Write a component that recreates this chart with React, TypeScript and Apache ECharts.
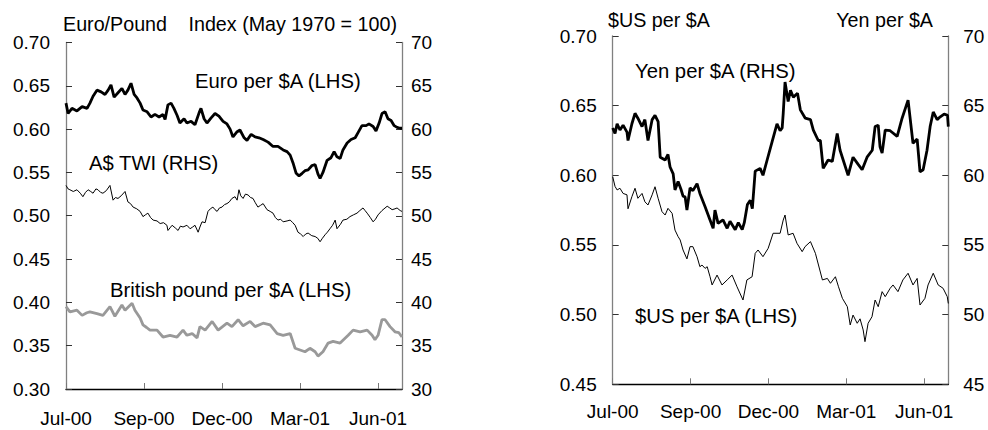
import React, { useEffect, useRef } from "react";
import * as echarts from "echarts";

// x values are months from the left edge of each panel (0 = Jul-00)
const monthLabels = ["Jul-00", "Sep-00", "Dec-00", "Mar-01", "Jun-01"];

// Left panel
const euroPerAUD: [number, number][] = [
  [0, 0.630], [0.08, 0.618], [0.23, 0.624], [0.42, 0.621], [0.62, 0.626], [0.81, 0.624], [0.92, 0.630],
  [1.04, 0.638], [1.19, 0.645], [1.35, 0.643], [1.5, 0.640], [1.62, 0.645], [1.73, 0.651], [1.85, 0.637],
  [2.0, 0.642], [2.15, 0.647], [2.27, 0.640], [2.38, 0.645], [2.5, 0.653], [2.62, 0.640], [2.73, 0.636],
  [2.85, 0.630], [2.96, 0.622], [3.12, 0.620], [3.27, 0.614], [3.42, 0.617], [3.58, 0.614], [3.73, 0.617],
  [3.81, 0.611], [3.92, 0.628], [4.04, 0.630], [4.15, 0.624], [4.27, 0.616], [4.38, 0.607], [4.54, 0.612],
  [4.65, 0.607], [4.81, 0.609], [4.96, 0.605], [5.12, 0.619], [5.19, 0.624], [5.31, 0.612], [5.42, 0.607],
  [5.58, 0.613], [5.73, 0.618], [5.88, 0.615], [6.04, 0.609], [6.19, 0.606], [6.31, 0.600], [6.42, 0.591],
  [6.58, 0.597], [6.69, 0.599], [6.85, 0.590], [6.96, 0.587], [7.12, 0.594], [7.27, 0.591], [7.42, 0.590],
  [7.58, 0.588], [7.77, 0.585], [7.96, 0.580], [8.15, 0.580], [8.35, 0.576], [8.5, 0.574], [8.62, 0.570],
  [8.73, 0.561], [8.85, 0.549], [8.96, 0.546], [9.08, 0.549], [9.19, 0.552], [9.31, 0.553], [9.46, 0.558],
  [9.58, 0.559], [9.69, 0.548], [9.77, 0.543], [9.88, 0.550], [10.04, 0.564], [10.19, 0.567], [10.31, 0.574],
  [10.42, 0.568], [10.54, 0.566], [10.65, 0.576], [10.81, 0.584], [10.96, 0.588], [11.12, 0.590], [11.23, 0.596],
  [11.38, 0.604], [11.54, 0.604], [11.65, 0.606], [11.81, 0.603], [11.92, 0.598], [12.04, 0.607], [12.15, 0.618],
  [12.27, 0.620], [12.38, 0.612], [12.5, 0.610], [12.62, 0.604], [12.73, 0.602], [12.85, 0.601], [12.92, 0.601],
];

const audTWI: [number, number][] = [
  [0, 53.5], [0.08, 53.1], [0.15, 53.0], [0.28, 52.8], [0.42, 53.0], [0.55, 52.6], [0.65, 52.2], [0.75, 52.7],
  [0.85, 53.0], [0.95, 52.8], [1.04, 52.6], [1.15, 53.1], [1.23, 53.0], [1.33, 52.7], [1.42, 52.6], [1.55, 52.9],
  [1.69, 53.5], [1.81, 51.8], [1.9, 52.1], [2.0, 52.0], [2.12, 52.3], [2.27, 52.8], [2.38, 51.6], [2.48, 51.4],
  [2.58, 51.0], [2.72, 50.8], [2.85, 50.5], [2.96, 49.9], [3.05, 50.1], [3.15, 50.3], [3.25, 49.8], [3.35, 49.5],
  [3.5, 49.4], [3.62, 49.1], [3.75, 49.2], [3.88, 48.9], [3.92, 48.3], [4.0, 48.6], [4.08, 48.9], [4.2, 48.6],
  [4.31, 48.3], [4.4, 48.8], [4.5, 48.7], [4.65, 48.9], [4.77, 48.5], [4.87, 48.7], [4.96, 48.9], [5.08, 48.1],
  [5.15, 48.7], [5.23, 49.3], [5.35, 49.2], [5.46, 50.5], [5.55, 50.8], [5.65, 51.0], [5.73, 50.7], [5.81, 50.5],
  [5.9, 50.9], [6.0, 51.0], [6.1, 51.3], [6.19, 51.4], [6.28, 51.6], [6.38, 52.0], [6.5, 52.2], [6.58, 51.8],
  [6.65, 53.0], [6.72, 52.3], [6.81, 52.0], [6.9, 52.5], [7.0, 52.4], [7.1, 52.1], [7.19, 52.0], [7.28, 51.5],
  [7.38, 51.0], [7.48, 51.2], [7.58, 51.4], [7.73, 50.7], [7.85, 50.5], [7.96, 50.3], [8.05, 49.8], [8.15, 49.5],
  [8.25, 49.6], [8.35, 49.3], [8.5, 49.4], [8.62, 49.5], [8.72, 49.2], [8.81, 48.9], [8.92, 48.1], [9.02, 47.9],
  [9.12, 47.6], [9.22, 47.9], [9.31, 48.0], [9.45, 47.7], [9.58, 47.6], [9.68, 47.4], [9.77, 47.0], [9.86, 47.4],
  [9.96, 47.8], [10.05, 48.1], [10.15, 48.5], [10.25, 48.9], [10.35, 49.5], [10.42, 48.5], [10.55, 49.0],
  [10.65, 49.5], [10.8, 49.6], [10.92, 49.9], [11.05, 50.1], [11.19, 50.3], [11.3, 50.6], [11.42, 50.9],
  [11.5, 50.6], [11.58, 50.3], [11.7, 49.8], [11.81, 49.3], [11.9, 49.6], [12.0, 50.1], [12.15, 50.6],
  [12.35, 51.1], [12.45, 50.9], [12.54, 50.7], [12.65, 50.8], [12.73, 50.9], [12.85, 50.6], [12.92, 50.5],
];

const gbpPerAUD: [number, number][] = [
  [0, 0.395], [0.15, 0.389], [0.27, 0.390], [0.42, 0.391], [0.62, 0.385], [0.8, 0.388], [0.92, 0.389],
  [1.19, 0.387], [1.42, 0.385], [1.69, 0.395], [1.88, 0.384], [2.15, 0.397], [2.27, 0.391], [2.54, 0.399],
  [2.65, 0.391], [2.85, 0.382], [2.96, 0.374], [3.1, 0.371], [3.23, 0.368], [3.5, 0.368], [3.73, 0.360],
  [4.0, 0.362], [4.27, 0.360], [4.5, 0.368], [4.65, 0.362], [4.85, 0.364], [5.04, 0.359], [5.15, 0.372],
  [5.35, 0.368], [5.62, 0.378], [5.85, 0.368], [6.19, 0.376], [6.38, 0.372], [6.62, 0.380], [6.81, 0.373],
  [7.08, 0.378], [7.27, 0.372], [7.58, 0.376], [7.85, 0.374], [8.12, 0.364], [8.35, 0.362], [8.62, 0.364],
  [8.81, 0.347], [9.0, 0.345], [9.19, 0.343], [9.38, 0.347], [9.58, 0.343], [9.69, 0.338], [9.88, 0.343],
  [10.08, 0.353], [10.27, 0.355], [10.54, 0.353], [10.85, 0.362], [11.04, 0.368], [11.31, 0.366],
  [11.58, 0.368], [11.77, 0.362], [11.88, 0.357], [12.0, 0.362], [12.15, 0.380], [12.27, 0.380],
  [12.46, 0.372], [12.65, 0.366], [12.8, 0.365], [12.92, 0.360],
];

// Right panel
const yenPerAUD: [number, number][] = [
  [0, 63.4], [0.09, 63.0], [0.17, 63.7], [0.28, 63.25], [0.4, 63.6], [0.55, 63.1], [0.59, 62.5], [0.74, 63.7],
  [0.86, 64.45], [0.97, 64.1], [1.13, 63.5], [1.24, 64.0], [1.36, 62.5], [1.52, 64.0], [1.63, 64.3], [1.75, 63.85],
  [1.83, 61.3], [2.02, 61.1], [2.13, 61.5], [2.21, 60.6], [2.33, 60.1], [2.4, 58.95], [2.52, 59.55], [2.63, 59.0],
  [2.71, 58.5], [2.79, 58.45], [2.86, 57.5], [2.98, 59.1], [3.09, 58.9], [3.25, 59.4], [3.36, 58.7], [3.56, 57.75],
  [3.75, 56.8], [3.87, 56.2], [3.94, 57.5], [4.06, 56.55], [4.25, 56.8], [4.41, 56.2], [4.52, 56.7], [4.72, 56.1],
  [4.84, 56.6], [4.99, 56.1], [5.07, 56.6], [5.19, 57.9], [5.3, 58.2], [5.38, 57.6], [5.49, 60.3], [5.68, 60.5],
  [5.79, 60.0], [5.95, 61.1], [6.14, 62.4], [6.33, 63.7], [6.45, 63.2], [6.53, 63.4], [6.57, 64.45], [6.64, 66.7],
  [6.76, 65.3], [6.85, 66.1], [6.96, 65.6], [7.12, 65.9], [7.23, 64.7], [7.42, 64.1], [7.62, 64.0], [7.73, 63.25],
  [7.92, 62.5], [8.0, 62.5], [8.11, 60.5], [8.3, 61.1], [8.46, 61.0], [8.65, 63.0], [8.76, 61.8], [8.88, 61.1],
  [9.07, 60.0], [9.26, 61.3], [9.45, 60.8], [9.61, 60.4], [9.8, 61.3], [10.0, 61.8], [10.11, 63.5], [10.23, 63.6],
  [10.3, 62.05], [10.38, 61.6], [10.5, 63.25], [10.69, 63.2], [10.96, 62.8], [11.15, 64.1], [11.38, 65.4],
  [11.57, 62.3], [11.73, 62.6], [11.84, 60.25], [11.96, 60.4], [12.11, 61.8], [12.23, 63.5], [12.35, 64.55],
  [12.5, 64.0], [12.62, 64.2], [12.77, 64.4], [12.9, 64.3], [12.93, 63.5],
];

const usdPerAUD: [number, number][] = [
  [0, 0.599], [0.09, 0.592], [0.17, 0.5895], [0.28, 0.5907], [0.4, 0.587], [0.55, 0.586], [0.59, 0.576],
  [0.74, 0.5847], [0.86, 0.5907], [0.97, 0.5835], [1.13, 0.587], [1.24, 0.581], [1.36, 0.5787], [1.52, 0.586],
  [1.63, 0.5918], [1.75, 0.5835], [1.9, 0.5739], [2.02, 0.5715], [2.13, 0.5763], [2.29, 0.5727], [2.4, 0.5607],
  [2.52, 0.556], [2.6, 0.5536], [2.71, 0.5464], [2.86, 0.540], [2.98, 0.5488], [3.09, 0.5488], [3.25, 0.5416],
  [3.36, 0.5344], [3.44, 0.5356], [3.56, 0.5332], [3.64, 0.5344], [3.75, 0.5272], [3.83, 0.5213], [4.02, 0.5284],
  [4.21, 0.5213], [4.41, 0.5249], [4.6, 0.5284], [4.79, 0.520], [5.02, 0.5105], [5.17, 0.5249], [5.37, 0.5272],
  [5.49, 0.544], [5.6, 0.5464], [5.79, 0.5416], [5.99, 0.5476], [6.18, 0.5584], [6.45, 0.5584], [6.57, 0.5679],
  [6.64, 0.5715], [6.76, 0.5572], [6.95, 0.5584], [7.1, 0.5512], [7.3, 0.5452], [7.41, 0.5488], [7.62, 0.5524],
  [7.81, 0.544], [8.08, 0.5249], [8.27, 0.526], [8.39, 0.5225], [8.58, 0.5272], [8.7, 0.520], [8.85, 0.5117],
  [9.04, 0.5057], [9.15, 0.4926], [9.26, 0.4997], [9.42, 0.4938], [9.53, 0.497], [9.65, 0.489], [9.72, 0.4806],
  [9.84, 0.4938], [9.99, 0.4985], [10.11, 0.5105], [10.23, 0.5057], [10.38, 0.5165], [10.5, 0.5129],
  [10.69, 0.5189], [10.8, 0.5213], [10.99, 0.5165], [11.18, 0.5249], [11.38, 0.5297], [11.57, 0.5213],
  [11.73, 0.526], [11.84, 0.5069], [12.03, 0.5117], [12.15, 0.5213], [12.35, 0.5297], [12.54, 0.5213],
  [12.73, 0.5189], [12.89, 0.5129], [12.93, 0.508],
];

const FONT = "'Liberation Sans', Arial, Helvetica, sans-serif";

function xAxisFor(gridIndex: number, max: number, margin: number) {
  return {
    type: "value" as const,
    gridIndex,
    min: 0,
    max,
    interval: 3,
    axisLine: { show: true, lineStyle: { color: "#000", width: 1.3 } },
    axisTick: { show: true, inside: true, length: 6, lineStyle: { color: "#777" } },
    axisLabel: {
      color: "#000",
      fontSize: 19,
      fontFamily: FONT,
      margin,
      showMaxLabel: false,
      formatter: (v: number) => {
        const i = Math.round(v / 3);
        return Math.abs(v - i * 3) < 1e-6 && monthLabels[i] ? monthLabels[i] : "";
      },
    },
    splitLine: { show: false },
  };
}

function yAxisFor(
  gridIndex: number,
  position: "left" | "right",
  min: number,
  max: number,
  interval: number,
  decimals: number,
  margin: number
) {
  return {
    type: "value" as const,
    gridIndex,
    position,
    min,
    max,
    interval,
    axisLine: { show: true, lineStyle: { color: "#808080", width: 1.3 } },
    axisTick: { show: true, inside: true, length: 6, lineStyle: { color: "#333" } },
    axisLabel: {
      color: "#000",
      fontSize: 19,
      fontFamily: FONT,
      margin,
      formatter: (v: number) => v.toFixed(decimals),
    },
    splitLine: { show: false },
  };
}

function txt(text: string, x: number, y: number, align: "left" | "right" = "left", size = 20.3) {
  return {
    type: "text" as const,
    x,
    y,
    style: {
      text,
      fill: "#000",
      font: `${size}px ${FONT}`,
      textAlign: align,
      textVerticalAlign: "middle",
    },
  };
}

export default function App() {
  const ref = useRef<HTMLDivElement>(null);
  useEffect(() => {
    if (!ref.current) return;
    const chart = echarts.init(ref.current, undefined, { renderer: "svg" });
    chart.setOption({
      animation: false,
      backgroundColor: "#fff",
      grid: [
        { left: 66, right: 586, top: 42.5, bottom: 41, containLabel: false },
        { left: 612.7, right: 39.7, top: 36, bottom: 45.7, containLabel: false },
      ],
      xAxis: [xAxisFor(0, 12.92, 20), xAxisFor(1, 12.93, 18)],
      yAxis: [
        yAxisFor(0, "left", 0.3, 0.7, 0.05, 2, 16),
        yAxisFor(0, "right", 30, 70, 5, 0, 9),
        yAxisFor(1, "left", 0.45, 0.7, 0.05, 2, 16),
        yAxisFor(1, "right", 45, 70, 5, 0, 15),
      ],
      series: [
        {
          name: "British pound per $A (LHS)",
          type: "line",
          xAxisIndex: 0,
          yAxisIndex: 0,
          data: gbpPerAUD,
          showSymbol: false,
          lineStyle: { color: "#999", width: 2.8 },
        },
        {
          name: "A$ TWI (RHS)",
          type: "line",
          xAxisIndex: 0,
          yAxisIndex: 1,
          data: audTWI,
          showSymbol: false,
          lineStyle: { color: "#000", width: 1 },
        },
        {
          name: "Euro per $A (LHS)",
          type: "line",
          xAxisIndex: 0,
          yAxisIndex: 0,
          data: euroPerAUD,
          showSymbol: false,
          lineStyle: { color: "#000", width: 2.8 },
        },
        {
          name: "$US per $A (LHS)",
          type: "line",
          xAxisIndex: 1,
          yAxisIndex: 2,
          data: usdPerAUD,
          showSymbol: false,
          lineStyle: { color: "#000", width: 1 },
        },
        {
          name: "Yen per $A (RHS)",
          type: "line",
          xAxisIndex: 1,
          yAxisIndex: 3,
          data: yenPerAUD,
          showSymbol: false,
          lineStyle: { color: "#000", width: 2.8 },
        },
      ],
      graphic: [
        txt("Euro/Pound", 63, 24, "left", 19.7),
        txt("Index (May 1970 = 100)", 397, 24, "right", 19.7),
        txt("$US per $A", 608, 19.5, "left", 19.7),
        txt("Yen per $A", 933, 19.5, "right", 19.7),
        txt("Euro per $A (LHS)", 195, 81),
        txt("A$ TWI (RHS)", 89, 162.5),
        txt("British pound per $A (LHS)", 110, 290),
        txt("Yen per $A (RHS)", 635, 71),
        txt("$US per $A (LHS)", 635, 315.5),
      ],
    });
    return () => chart.dispose();
  }, []);
  return (
    <div
      ref={ref}
      style={{ position: "fixed", left: 0, top: 0, width: 988, height: 430, background: "#fff" }}
    />
  );
}
